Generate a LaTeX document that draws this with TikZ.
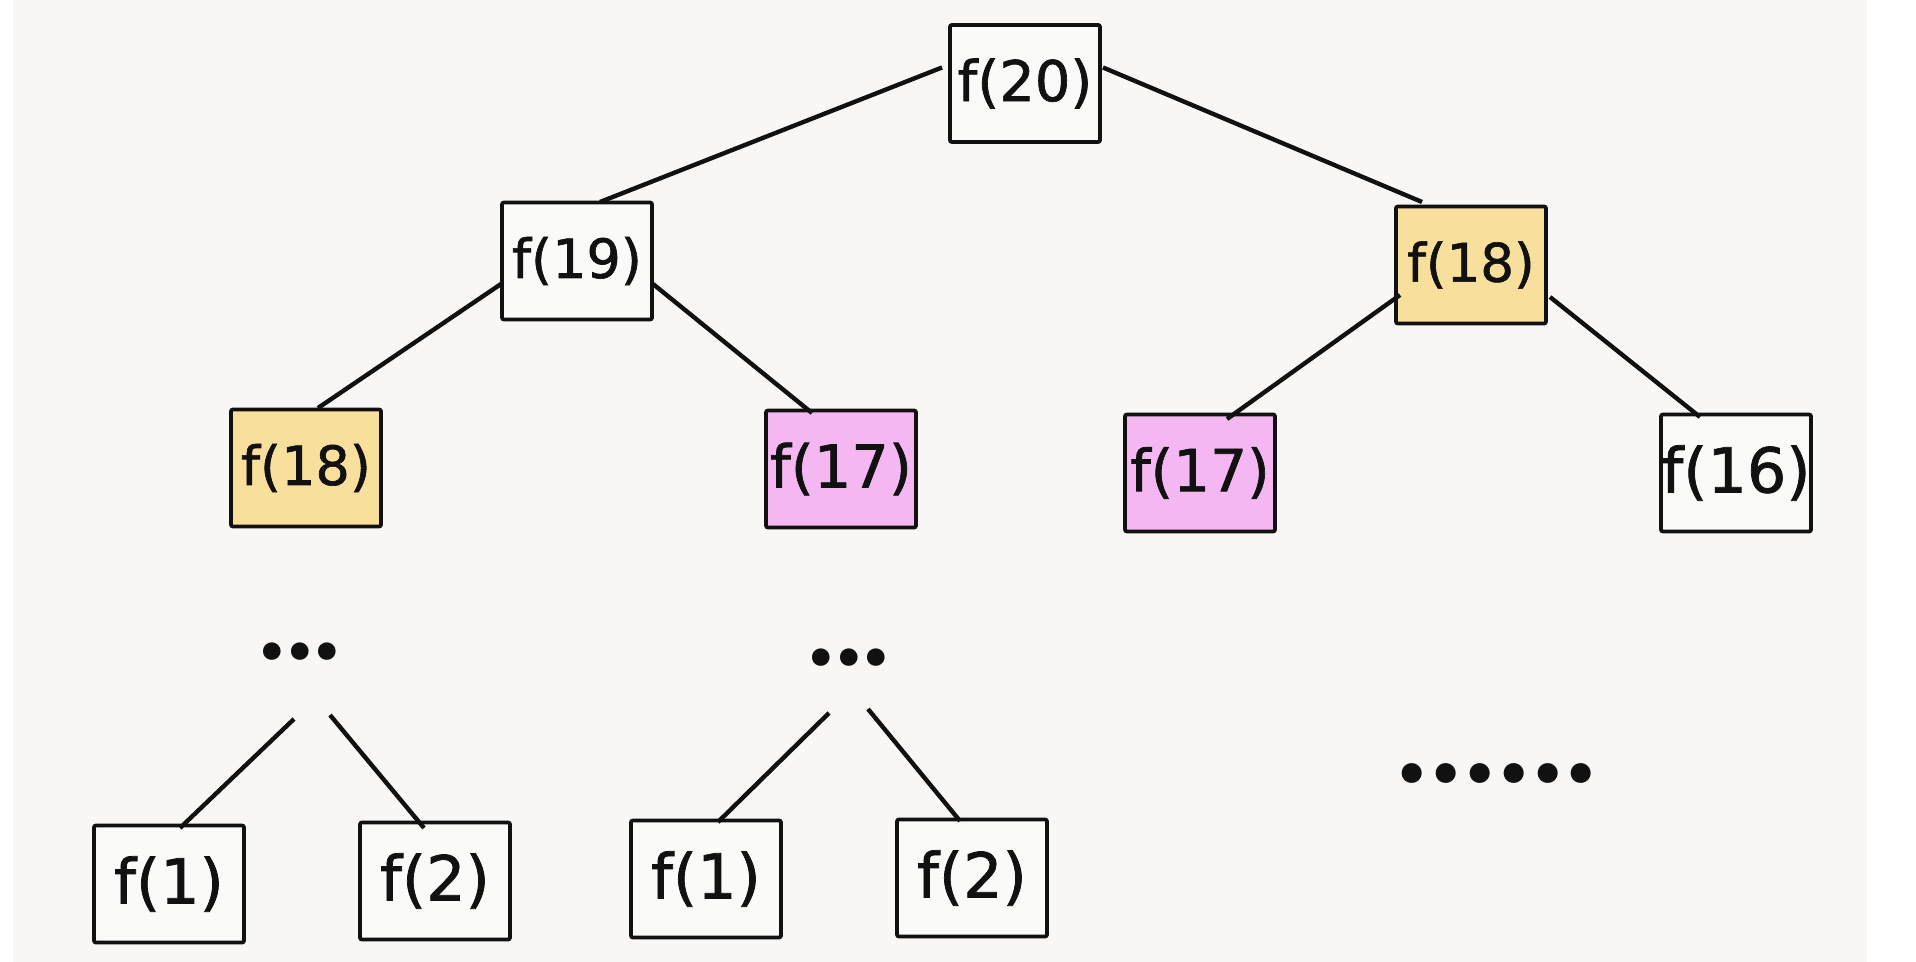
\documentclass[tikz,border=0pt]{standalone}
\usepackage{fontspec}
\setmainfont{DejaVu Sans}[FakeBold=1.2]
\newfontfamily\dotfont{Lato}
\usetikzlibrary{calc}
\definecolor{bgc}{HTML}{F8F7F5}
\definecolor{boxw}{HTML}{FAFAF9}
\definecolor{yel}{HTML}{F8DF9C}
\definecolor{pnk}{HTML}{F4B7F1}
\definecolor{ink}{HTML}{111111}
\newcommand\fsz[1]{\fontsize{#1}{#1}\selectfont}
\begin{document}
\begin{tikzpicture}[x=0.5pt,y=-0.5pt,
  fbox/.style={draw=ink, line width=1.9pt, rounded corners=1pt, fill=boxw,
    minimum width=75pt, minimum height=58.5pt, inner sep=0pt, text=ink},
  dotsA/.style={inner sep=0pt, font=\dotfont\bfseries\fsz{58}, text=ink},
  dotsB/.style={inner sep=0pt, font=\dotfont\bfseries\fsz{66}, text=ink},
  edge/.style={draw=ink, line width=2.2pt}]
\useasboundingbox (0,0) rectangle (1916,962);
\fill[white] (0,0) rectangle (1916,962);
\fill[bgc] (13,0) rectangle (1867,962);

\node[fbox, font=\fsz{28}] (f20) at (1025,83.5) {f(20)};
\node[fbox, font=\fsz{27}] (f19) at (577,261) {f(19)};
\node[fbox, fill=yel, font=\fsz{26.5}] (f18r) at (1471,265) {f(18)};
\node[fbox, fill=yel, font=\fsz{27}] (f18l) at (306,468) {f(18)};
\node[fbox, fill=pnk, font=\fsz{29.5}] (f17a) at (841,469) {f(17)};
\node[fbox, fill=pnk, font=\fsz{29}] (f17b) at (1200,473) {f(17)};
\node[fbox, font=\fsz{31}] (f16) at (1736,473) {f(16)};
\node[dotsA] (dA) at (300,652) {...};
\node[dotsA] (dB) at (849,658) {...};
\node[fbox, font=\fsz{31}] (f1a) at (169,884) {f(1)};
\node[fbox, font=\fsz{31}] (f2a) at (435,881) {f(2)};
\node[fbox, font=\fsz{31}] (f1b) at (706,879) {f(1)};
\node[fbox, font=\fsz{31}] (f2b) at (972,878) {f(2)};
\node[dotsB] (dC) at (1497,773) {.\kern1.2pt.\kern1.2pt.\kern1.2pt.\kern1.2pt.\kern1.2pt.};

\draw[edge] ($(f20)+(-83,-16)$) -- ($(f19)+(23,-59)$);
\draw[edge] ($(f20)+(78,-16)$) -- ($(f18r)+(-49,-63)$);
\draw[edge] ($(f19)+(-76,23)$) -- ($(f18l)+(12,-60)$);
\draw[edge] ($(f19)+(76,23)$) -- ($(f17a)+(-29,-56)$);
\draw[edge] ($(f18r)+(-71,30)$) -- ($(f17b)+(27,-54)$);
\draw[edge] ($(f18r)+(79,32)$) -- ($(f16)+(-36,-56)$);
\draw[edge] ($(dA)+(-6,67)$) -- ($(f1a)+(11,-56)$);
\draw[edge] ($(dA)+(30,63)$) -- ($(f2a)+(-11,-53)$);
\draw[edge] ($(dB)+(-20,55)$) -- ($(f1b)+(12,-57)$);
\draw[edge] ($(dB)+(19,51)$) -- ($(f2b)+(-12,-57)$);
\end{tikzpicture}
\end{document}
